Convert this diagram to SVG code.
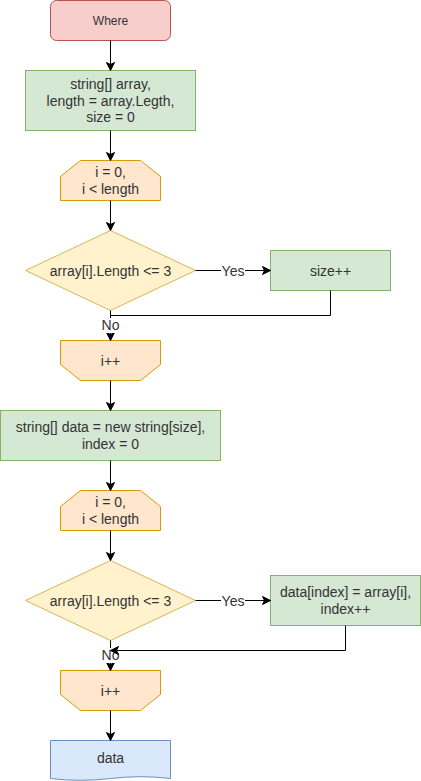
<svg xmlns="http://www.w3.org/2000/svg" width="421" height="781" viewBox="0 0 421 781">
<defs>
<marker id="arr" markerUnits="userSpaceOnUse" markerWidth="10" markerHeight="10" viewBox="0 0 10 10" refX="9" refY="5" orient="auto">
<path d="M1,1 L9,5 L1,9 L3,5 Z" fill="#000" stroke="#000" stroke-width="1"/>
</marker>
<style>
text{font-family:"Liberation Sans",Arial,Helvetica,sans-serif;font-size:14px;fill:#333333;text-anchor:middle}
.red{fill:#f8cecc;stroke:#b85450}
.green{fill:#d5e8d4;stroke:#82b366}
.orange{fill:#ffe6cc;stroke:#d79b00}
.yellow{fill:#fff2cc;stroke:#d6b656}
.blue{fill:#dae8fc;stroke:#6c8ebf}
.edge{fill:none;stroke:#000;stroke-width:1}
.lbl{fill:#fff;stroke:none}
</style>
</defs>
<rect width="421" height="781" fill="#fff"/>
<g id="start">
<rect class="red" x="50.5" y="0.5" width="120" height="40" rx="6" ry="6"/>
<text x="110.5" y="24.7" style="font-size:12px">Where</text>
</g>
<g id="init">
<rect class="green" x="25.5" y="70.5" width="170" height="60"/>
<text x="110.5" y="88.7">string[] array,</text>
<text x="110.5" y="105.5">length = array.Legth,</text>
<text x="110.5" y="122.3">size = 0</text>
</g>
<g id="loop1">
<path class="orange" d="M80.5,160.5 H140.5 L160.5,176.5 V200.5 H60.5 V176.5 Z"/>
<text x="110.5" y="177.1">i = 0,</text>
<text x="110.5" y="193.9">i &lt; length</text>
</g>
<g id="cond1">
<path class="yellow" d="M25.5,270.5 L110.5,230.5 L195.5,270.5 L110.5,310.5 Z"/>
<text x="110.5" y="275.5">array[i].Length &lt;= 3</text>
</g>
<g id="sizeinc">
<rect class="green" x="270.5" y="250.5" width="120" height="40"/>
<text x="330.5" y="275.5">size++</text>
</g>
<g id="loop1end">
<path class="orange" d="M60.5,340.5 H160.5 V364.5 L140.5,380.5 H80.5 L60.5,364.5 Z"/>
<text x="110.5" y="365.5">i++</text>
</g>
<g id="alloc">
<rect class="green" x="0.5" y="410.5" width="220" height="50"/>
<text x="110.5" y="432.1">string[] data = new string[size],</text>
<text x="110.5" y="448.9">index = 0</text>
</g>
<g id="loop2">
<path class="orange" d="M80.5,490.5 H140.5 L160.5,506.5 V530.5 H60.5 V506.5 Z"/>
<text x="110.5" y="507.1">i = 0,</text>
<text x="110.5" y="523.9">i &lt; length</text>
</g>
<g id="cond2">
<path class="yellow" d="M25.5,600.5 L110.5,560.5 L195.5,600.5 L110.5,640.5 Z"/>
<text x="110.5" y="605.5">array[i].Length &lt;= 3</text>
</g>
<g id="assign">
<rect class="green" x="270.5" y="575.5" width="150" height="50"/>
<text x="345.5" y="597.1">data[index] = array[i],</text>
<text x="345.5" y="613.9">index++</text>
</g>
<g id="loop2end">
<path class="orange" d="M60.5,670.5 H160.5 V694.5 L140.5,710.5 H80.5 L60.5,694.5 Z"/>
<text x="110.5" y="695.5">i++</text>
</g>
<g id="output">
<path class="blue" d="M50.5,740.5 H170.5 V778.5 Q140.5,774.9 110.5,778.5 Q80.5,782.1 50.5,778.5 Z"/>
<text x="110.5" y="763">data</text>
</g>
<g id="connectors">
<path class="edge" d="M110.5,40.5 V70.5" marker-end="url(#arr)"/>
<path class="edge" d="M110.5,130.5 V160.5" marker-end="url(#arr)"/>
<path class="edge" d="M110.5,200.5 V230.5" marker-end="url(#arr)"/>
<path class="edge" d="M195.5,270.5 H270.5" marker-end="url(#arr)"/>
<path class="edge" d="M330.5,290.5 V315.5 H110.5"/>
<path class="edge" d="M110.5,310.5 V340.5" marker-end="url(#arr)"/>
<path class="edge" d="M110.5,380.5 V410.5" marker-end="url(#arr)"/>
<path class="edge" d="M110.5,460.5 V490.5" marker-end="url(#arr)"/>
<path class="edge" d="M110.5,530.5 V560.5" marker-end="url(#arr)"/>
<path class="edge" d="M195.5,600.5 H270.5" marker-end="url(#arr)"/>
<path class="edge" d="M110.5,640.5 V670.5" marker-end="url(#arr)"/>
<path class="edge" d="M110.5,710.5 V740.5" marker-end="url(#arr)"/>
<rect class="lbl" x="221" y="263" width="24" height="15"/>
<text x="233" y="275.5">Yes</text>
<rect class="lbl" x="101" y="318" width="19" height="15"/>
<text x="110.5" y="330">No</text>
<rect class="lbl" x="221" y="593" width="24" height="15"/>
<text x="233" y="605.5">Yes</text>
<rect class="lbl" x="101" y="648" width="19" height="15"/>
<text x="110.5" y="660">No</text>
<path class="edge" d="M345.5,625.5 V650.5 H110.5" marker-end="url(#arr)"/>
</g>
</svg>
